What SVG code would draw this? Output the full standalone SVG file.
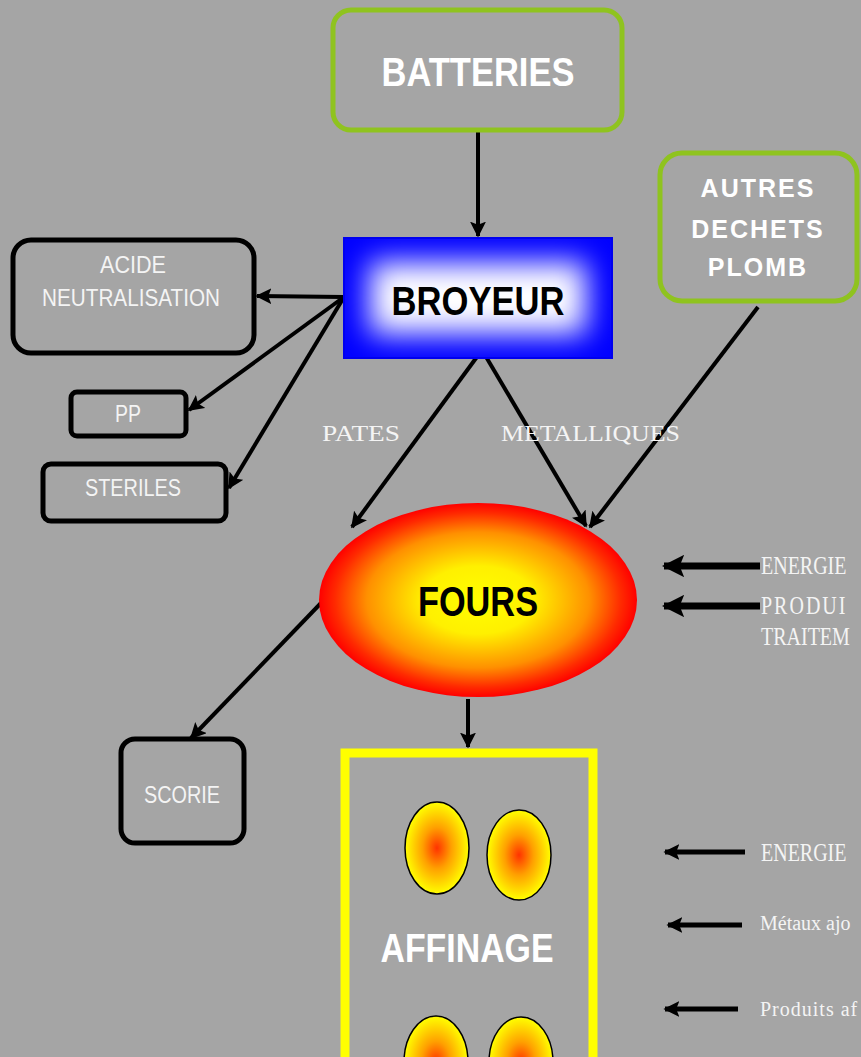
<svg xmlns="http://www.w3.org/2000/svg" width="861" height="1057" viewBox="0 0 861 1057">
<defs>
<filter id="blur" x="-50%" y="-50%" width="200%" height="200%">
<feGaussianBlur stdDeviation="15"/>
</filter>
<clipPath id="cBroy"><rect x="344" y="238" width="268" height="120"/></clipPath>
<radialGradient id="gFours" cx="0.5" cy="0.5" r="0.5">
<stop offset="0" stop-color="#ffff00"/>
<stop offset="0.35" stop-color="#fff000"/>
<stop offset="0.7" stop-color="#ff9000"/>
<stop offset="0.9" stop-color="#ff2a00"/>
<stop offset="1" stop-color="#ff0000"/>
</radialGradient>
<radialGradient id="gSmall" cx="0.5" cy="0.5" r="0.5">
<stop offset="0" stop-color="#ff3300"/>
<stop offset="0.45" stop-color="#ffa000"/>
<stop offset="1" stop-color="#ffff00"/>
</radialGradient>
<marker id="ah" viewBox="0 0 10 10" refX="9" refY="5" markerWidth="4" markerHeight="4" orient="auto" markerUnits="strokeWidth">
<path d="M0,0 L10,5 L0,10 L2,5 Z" fill="#000"/>
</marker>
<marker id="ah2" viewBox="0 0 10 10" refX="9" refY="5" markerWidth="3.2" markerHeight="3.2" orient="auto" markerUnits="strokeWidth">
<path d="M0,0 L10,5 L0,10 L2,5 Z" fill="#000"/>
</marker>
</defs>
<style>
.green{fill:none;stroke:#8fc31f;stroke-width:5}
.blk{fill:none;stroke:#000;stroke-width:5}
.wb{font-family:"Liberation Sans",Arial,sans-serif;font-weight:bold;fill:#ffffff;text-anchor:middle}
.bb{font-family:"Liberation Sans",Arial,sans-serif;font-weight:bold;fill:#000;text-anchor:middle}
.ws{font-family:"Liberation Sans",Arial,sans-serif;fill:#f4f4f4;text-anchor:middle;font-size:23px}
.sf{font-family:"Liberation Serif","Times New Roman",serif;fill:#f4f4f4;font-size:24px}
.sr{font-family:"Liberation Serif","Times New Roman",serif;fill:#f4f4f4;font-size:20px}
.con{fill:none;stroke:#000;stroke-width:4;marker-end:url(#ah)}
.thick{fill:none;stroke:#000;stroke-width:7;marker-end:url(#ah2)}
.med{fill:none;stroke:#000;stroke-width:5;marker-end:url(#ah2)}
</style>
<rect x="0" y="0" width="861" height="1057" fill="#a5a5a5"/>

<g id="connectors">
<line class="con" x1="478" y1="131" x2="478" y2="236"/>
<line class="con" x1="344" y1="297" x2="257" y2="296"/>
<line class="con" x1="344" y1="297" x2="189" y2="410"/>
<line class="con" x1="344" y1="297" x2="229" y2="488"/>
<line class="con" x1="482" y1="350" x2="352" y2="527"/>
<line class="con" x1="482" y1="350" x2="586" y2="526"/>
<line class="con" x1="758" y1="307" x2="590" y2="527"/>
<line class="con" x1="322" y1="602" x2="191" y2="738"/>
<line class="con" x1="468" y1="699" x2="468" y2="747"/>
<line class="thick" x1="760" y1="566" x2="664" y2="566"/>
<line class="thick" x1="760" y1="606" x2="664" y2="606"/>
<line class="med" x1="745" y1="852" x2="665" y2="852"/>
<line class="med" x1="742" y1="925" x2="668" y2="925"/>
<line class="med" x1="738" y1="1009" x2="665" y2="1009"/>
</g>

<g id="batteries">
<rect class="green" x="333" y="10" width="289" height="120" rx="18"/>
<text class="wb" x="478" y="86" font-size="40" textLength="193" lengthAdjust="spacingAndGlyphs">BATTERIES</text>
</g>

<g id="broyeur">
<rect x="344" y="238" width="268" height="120" fill="#0000ff"/>
<g clip-path="url(#cBroy)">
<rect x="370" y="262" width="216" height="72" fill="#ffffff" filter="url(#blur)"/>
</g>
<rect x="344" y="238" width="268" height="120" fill="none" stroke="#0000ee" stroke-width="2"/>
<text class="bb" x="478" y="315" font-size="41" textLength="173" lengthAdjust="spacingAndGlyphs">BROYEUR</text>
</g>

<g id="autres">
<rect class="green" x="660" y="153" width="197" height="148" rx="22"/>
<text class="wb" x="758" y="197" font-size="25" letter-spacing="2">AUTRES</text>
<text class="wb" x="758" y="238" font-size="25" letter-spacing="2">DECHETS</text>
<text class="wb" x="758" y="276" font-size="25" letter-spacing="2">PLOMB</text>
</g>

<g id="acide">
<rect class="blk" x="13" y="240" width="241" height="113" rx="18"/>
<text class="ws" x="133" y="273" textLength="66" lengthAdjust="spacingAndGlyphs">ACIDE</text>
<text class="ws" x="131" y="306" textLength="178" lengthAdjust="spacingAndGlyphs">NEUTRALISATION</text>
</g>

<g id="pp">
<rect class="blk" x="71" y="392" width="115" height="44" rx="6"/>
<text class="ws" x="128" y="422" textLength="26" lengthAdjust="spacingAndGlyphs">PP</text>
</g>

<g id="steriles">
<rect class="blk" x="43" y="464" width="183" height="57" rx="8"/>
<text class="ws" x="133" y="496" textLength="96" lengthAdjust="spacingAndGlyphs">STERILES</text>
</g>

<g id="labels">
<text class="sf" x="322" y="441" textLength="78" lengthAdjust="spacingAndGlyphs">PATES</text>
<text class="sf" x="501" y="441" textLength="179" lengthAdjust="spacingAndGlyphs">METALLIQUES</text>
</g>

<g id="fours">
<ellipse cx="478" cy="600" rx="159" ry="97" fill="url(#gFours)"/>
<text class="bb" x="478" y="616" font-size="42" textLength="120" lengthAdjust="spacingAndGlyphs">FOURS</text>
</g>

<g id="scorie">
<rect class="blk" x="121" y="739" width="123" height="104" rx="14"/>
<text class="ws" x="182" y="803" textLength="76" lengthAdjust="spacingAndGlyphs">SCORIE</text>
</g>

<g id="affinage">
<rect x="345" y="753" width="248" height="320" fill="none" stroke="#ffff00" stroke-width="9"/>
<ellipse cx="437" cy="848" rx="32" ry="46" fill="url(#gSmall)" stroke="#000" stroke-width="1.5"/>
<ellipse cx="519" cy="855" rx="32" ry="45" fill="url(#gSmall)" stroke="#000" stroke-width="1.5"/>
<ellipse cx="436" cy="1062" rx="32" ry="46" fill="url(#gSmall)" stroke="#000" stroke-width="1.5"/>
<ellipse cx="521" cy="1062" rx="32" ry="45" fill="url(#gSmall)" stroke="#000" stroke-width="1.5"/>
<text class="wb" x="467" y="962" font-size="40" textLength="173" lengthAdjust="spacingAndGlyphs">AFFINAGE</text>
</g>

<g id="inputs">
<text class="sr" transform="translate(761,574) scale(1,1.25)">ENERGIE</text>
<text class="sr" transform="translate(761,614) scale(1,1.25)" letter-spacing="2">PRODUI</text>
<text class="sr" transform="translate(761,645) scale(1,1.25)">TRAITEM</text>
<text class="sr" transform="translate(761,861) scale(1,1.25)">ENERGIE</text>
<text class="sr" x="760" y="930" font-size="17">Métaux ajo</text>
<text class="sr" x="760" y="1016" font-size="17" letter-spacing="1">Produits af</text>
</g>
</svg>
